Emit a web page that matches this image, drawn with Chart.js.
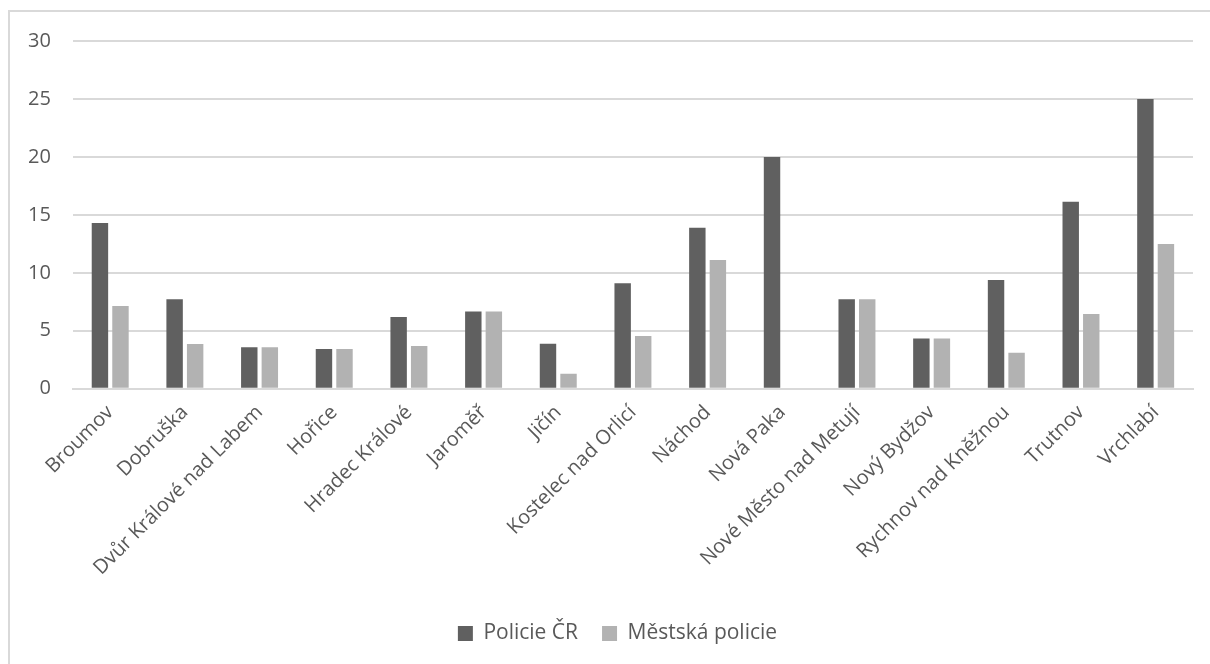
<!DOCTYPE html>
<html>
<head>
<meta charset="utf-8">
<script src="https://cdn.jsdelivr.net/npm/chart.js@4.4.0/dist/chart.umd.min.js"></script>
<style>
  html, body { margin: 0; padding: 0; background: #fff; }
  #frame {
    position: absolute; left: 8px; top: 10px;
    width: 1220px; height: 680px;
    border: 2px solid #d9d9d9;
  }
  #wrap { position: absolute; left: 6px; top: 7px; width: 1204px; height: 657px; }
</style>
</head>
<body>
<div id="frame"></div>
<div id="wrap"><canvas id="myChart"></canvas></div>
<script>
const categories = [
  "Broumov", "Dobruška", "Dvůr Králové nad Labem", "Hořice", "Hradec Králové",
  "Jaroměř", "Jičín", "Kostelec nad Orlicí", "Náchod", "Nová Paka",
  "Nové Město nad Metují", "Nový Bydžov", "Rychnov nad Kněžnou", "Trutnov", "Vrchlabí"
];
const policieCR = [14.29, 7.71, 3.57, 3.42, 6.18, 6.67, 3.88, 9.09, 13.89, 20.0, 7.71, 4.34, 9.38, 16.13, 25.0];
const mestskaPolicie = [7.13, 3.85, 3.57, 3.42, 3.68, 6.67, 1.29, 4.54, 11.1, 0, 7.71, 4.34, 3.11, 6.44, 12.48];
const yTicks = [0, 5, 10, 15, 20, 25, 30];

const textColor = "#595959";
const gridColor = "#d9d9d9";
const font = { family: "Open Sans", size: 20 };

// legenda v originále není přesně uprostřed
const shiftLegend = {
  id: "shiftLegend",
  afterLayout(c) {
    c.legend.left += 18;
    c.legend.right += 18;
  }
};

const canvas = document.getElementById("myChart");
const chart = new Chart(canvas, {
  type: "bar",
  data: {
    labels: categories,
    datasets: [
      { label: "Policie ČR", data: policieCR, backgroundColor: "#606060" },
      { label: "Městská policie", data: mestskaPolicie, backgroundColor: "#b2b2b2" }
    ]
  },
  plugins: [shiftLegend],
  options: {
    responsive: true,
    maintainAspectRatio: false,
    animation: false,
    categoryPercentage: 0.55,
    barPercentage: 0.8,
    layout: { padding: { left: 0, right: 17, top: 1, bottom: 10 } },
    plugins: {
      legend: {
        position: "bottom",
        labels: {
          color: textColor,
          font: { family: "Open Sans", size: 21 },
          boxWidth: 15, boxHeight: 15,
          padding: 24
        }
      },
      tooltip: { enabled: false }
    },
    scales: {
      x: {
        grid: { display: false },
        border: { color: gridColor, width: 2 },
        afterFit: s => { s.height += 15; },
        ticks: {
          color: textColor,
          font: font,
          minRotation: 45, maxRotation: 45,
          padding: 4
        }
      },
      y: {
        min: 0, max: 30,
        afterBuildTicks: axis => { axis.ticks = yTicks.map(v => ({ value: v })); },
        grid: { color: gridColor, lineWidth: 2, drawTicks: false },
        border: { display: false },
        ticks: {
          color: textColor,
          font: font,
          padding: 22
        }
      }
    }
  }
});
</script>
</body>
</html>
